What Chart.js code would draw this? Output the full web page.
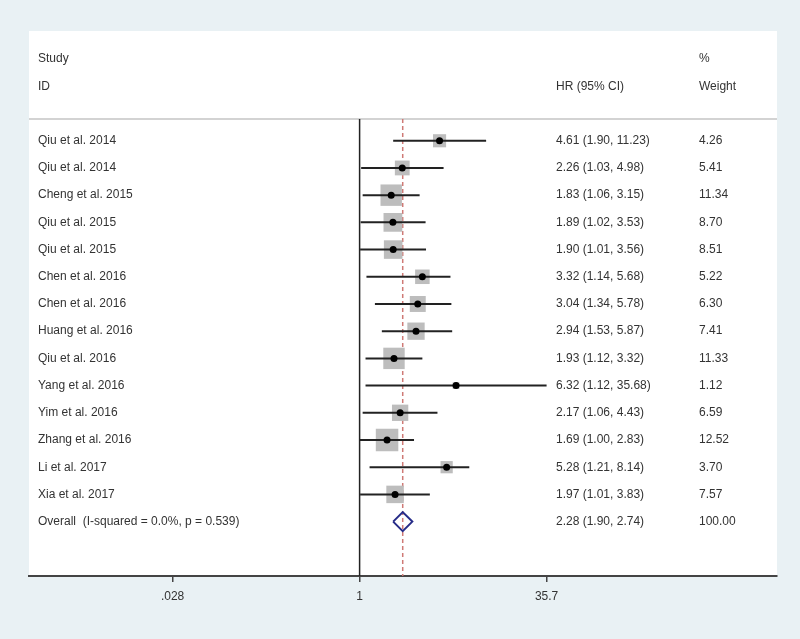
<!DOCTYPE html>
<html lang="en">
<head>
    <meta charset="UTF-8">
    <title>Forest plot - HR (95% CI)</title>
    <script src="https://cdn.jsdelivr.net/npm/chart.js"></script>
    <style>
        body {
            margin: 0;
            background-color: #e9f1f4;
        }
        canvas {
            display: block;
        }
    </style>
</head>
<body>
    <canvas id="forestChart" width="800" height="639"></canvas>

    <script>
        // study data
        const studies = ['Qiu et al. 2014', 'Qiu et al. 2014', 'Cheng et al. 2015', 'Qiu et al. 2015', 'Qiu et al. 2015',
            'Chen et al. 2016', 'Chen et al. 2016', 'Huang et al. 2016', 'Qiu et al. 2016', 'Yang et al. 2016',
            'Yim et al. 2016', 'Zhang et al. 2016', 'Li et al. 2017', 'Xia et al. 2017'];
        const hr = [4.61, 2.26, 1.83, 1.89, 1.90, 3.32, 3.04, 2.94, 1.93, 6.32, 2.17, 1.69, 5.28, 1.97];
        const lower = [1.90, 1.03, 1.06, 1.02, 1.01, 1.14, 1.34, 1.53, 1.12, 1.12, 1.06, 1.00, 1.21, 1.01];
        const upper = [11.23, 4.98, 3.15, 3.53, 3.56, 5.68, 5.78, 5.87, 3.32, 35.68, 4.43, 2.83, 8.14, 3.83];
        const weights = [4.26, 5.41, 11.34, 8.70, 8.51, 5.22, 6.30, 7.41, 11.33, 1.12, 6.59, 12.52, 3.70, 7.57];

        const overallLabel = 'Overall  (I-squared = 0.0%, p = 0.539)';
        const overall = { hr: 2.28, lower: 1.90, upper: 2.74, weight: 100.00 };

        const tickValues = [0.028, 1, 35.7];
        const tickLabels = ['.028', '1', '35.7'];

        const X_MIN = 0.0018, X_MAX = 2920;
        const Y_MIN = -0.8, Y_MAX = 16.0;
        const overallRow = studies.length;

        const fmt = v => v.toFixed(2);
        const ciText = (h, l, u) => `${fmt(h)} (${fmt(l)}, ${fmt(u)})`;

        // one line dataset per confidence interval
        const ciSets = studies.map((s, i) => ({
            type: 'line',
            data: [{ x: lower[i], y: i }, { x: upper[i], y: i }],
            borderColor: '#222',
            borderWidth: 2,
            pointRadius: 0,
            order: 3
        }));

        const boxSet = {
            type: 'scatter',
            data: hr.map((v, i) => ({ x: v, y: i })),
            pointStyle: 'rect',
            pointRadius: weights.map(w => 6.36 * Math.sqrt(w) / Math.SQRT2),
            backgroundColor: '#bdbdbd',
            borderWidth: 0,
            order: 4
        };

        const dotSet = {
            type: 'scatter',
            data: hr.map((v, i) => ({ x: v, y: i })),
            pointStyle: 'circle',
            pointRadius: 3.5,
            backgroundColor: '#000',
            borderWidth: 0,
            order: 1
        };

        const diamondSet = {
            type: 'line',
            data: [
                { x: overall.lower, y: overallRow },
                { x: overall.hr, y: overallRow - 0.35 },
                { x: overall.upper, y: overallRow },
                { x: overall.hr, y: overallRow + 0.35 },
                { x: overall.lower, y: overallRow }
            ],
            borderColor: '#272c88',
            borderWidth: 2,
            pointRadius: 0,
            tension: 0,
            fill: false,
            order: 2
        };

        const nullLine = {
            type: 'line',
            data: [{ x: 1, y: Y_MIN }, { x: 1, y: Y_MAX }],
            borderColor: '#222',
            borderWidth: 1.5,
            pointRadius: 0,
            order: 6
        };

        const overallLine = {
            type: 'line',
            data: [{ x: overall.hr, y: Y_MIN }, { x: overall.hr, y: Y_MAX }],
            borderColor: '#cf7a76',
            borderWidth: 1.5,
            borderDash: [4, 3],
            pointRadius: 0,
            order: 5
        };

        // panel background, separator and the text columns
        const panelPlugin = {
            id: 'panel',
            beforeDraw(chart) {
                const { ctx, chartArea } = chart;
                ctx.save();
                ctx.fillStyle = '#e9f1f4';
                ctx.fillRect(0, 0, chart.width, chart.height);
                ctx.fillStyle = '#ffffff';
                ctx.fillRect(chartArea.left, 31, chartArea.right - chartArea.left, chartArea.bottom - 31);
                ctx.strokeStyle = '#c4c4c4';
                ctx.lineWidth = 1.5;
                ctx.beginPath();
                ctx.moveTo(chartArea.left, chartArea.top);
                ctx.lineTo(chartArea.right, chartArea.top);
                ctx.stroke();
                ctx.restore();
            },
            afterDraw(chart) {
                const { ctx } = chart;
                const y = chart.scales.y;
                const colStudy = 38, colHR = 556, colW = 699;
                ctx.save();
                ctx.font = '12px "Liberation Sans", Arial, sans-serif';
                ctx.fillStyle = '#333';
                ctx.textBaseline = 'middle';
                ctx.textAlign = 'left';

                ctx.fillText('Study', colStudy, y.getPixelForValue(-3));
                ctx.fillText('%', colW, y.getPixelForValue(-3));
                ctx.fillText('ID', colStudy, y.getPixelForValue(-2));
                ctx.fillText('HR (95% CI)', colHR, y.getPixelForValue(-2));
                ctx.fillText('Weight', colW, y.getPixelForValue(-2));

                studies.forEach((s, i) => {
                    const py = y.getPixelForValue(i);
                    ctx.fillText(s, colStudy, py);
                    ctx.fillText(ciText(hr[i], lower[i], upper[i]), colHR, py);
                    ctx.fillText(fmt(weights[i]), colW, py);
                });

                const po = y.getPixelForValue(overallRow);
                ctx.fillText(overallLabel, colStudy, po);
                ctx.fillText(ciText(overall.hr, overall.lower, overall.upper), colHR, po);
                ctx.fillText(fmt(overall.weight), colW, po);
                ctx.restore();
            }
        };

        new Chart(document.getElementById('forestChart').getContext('2d'), {
            type: 'scatter',
            data: {
                datasets: [...ciSets, boxSet, dotSet, diamondSet, nullLine, overallLine]
            },
            options: {
                responsive: false,
                animation: false,
                layout: { padding: { left: 29, right: 23, top: 119, bottom: 0 } },
                plugins: {
                    legend: { display: false },
                    tooltip: { enabled: false }
                },
                scales: {
                    x: {
                        type: 'logarithmic',
                        position: 'bottom',
                        min: X_MIN,
                        max: X_MAX,
                        afterBuildTicks: scale => {
                            scale.ticks = tickValues.map(v => ({ value: v }));
                        },
                        afterFit: scale => {
                            scale.height = 63;
                        },
                        ticks: {
                            autoSkip: false,
                            maxRotation: 0,
                            padding: 7,
                            color: '#333',
                            font: { family: '"Liberation Sans", Arial, sans-serif', size: 12 },
                            callback: (v) => {
                                const k = tickValues.indexOf(v);
                                return k >= 0 ? tickLabels[k] : '';
                            }
                        },
                        grid: {
                            drawOnChartArea: false,
                            drawTicks: true,
                            tickLength: 6,
                            color: '#444',
                            lineWidth: 1.5
                        },
                        border: { display: true, color: '#444', width: 2 }
                    },
                    y: {
                        type: 'linear',
                        display: false,
                        reverse: true,
                        min: Y_MIN,
                        max: Y_MAX
                    }
                }
            },
            plugins: [panelPlugin]
        });
    </script>
</body>
</html>
